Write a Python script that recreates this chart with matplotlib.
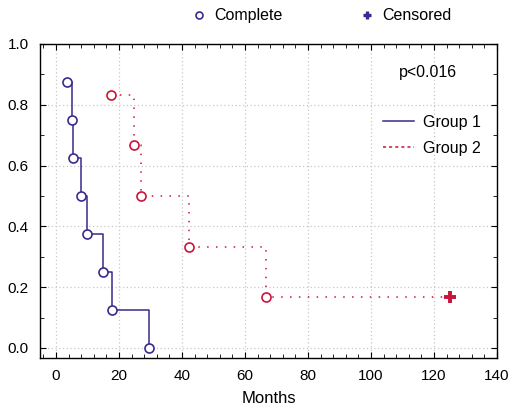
import matplotlib.pyplot as plt
from matplotlib.lines import Line2D
from matplotlib.ticker import MultipleLocator

plt.rcParams['font.family'] = ['Liberation Sans', 'DejaVu Sans']
plt.rcParams['font.size'] = 11

# Kaplan-Meier estimates
g1_months = [3.6, 5.0, 5.3, 8.0, 9.7, 14.8, 17.8, 29.5]
g1_surv = [0.875, 0.75, 0.625, 0.5, 0.375, 0.25, 0.125, 0.0]

g2_months = [17.5, 24.9, 27.0, 42.1, 66.7]
g2_surv = [0.833, 0.667, 0.5, 0.333, 0.167]
g2_cens_month = [125.0]
g2_cens_surv = [0.167]

p_text = "p<0.016"

blue = '#3b2a8c'
red = '#c8143c'
dots = (0, (1, 4.8))

fig = plt.figure(figsize=(5.11, 4.11), dpi=100)
ax = fig.add_axes([0.0783, 0.129, 0.8943, 0.764])

# group 1 step line + complete markers
ax.plot(g1_months, g1_surv, drawstyle='steps-post', color=blue, lw=1.1)
ax.plot(g1_months, g1_surv, 'o', ms=6.5, mfc='white', mec=blue, mew=1.2, zorder=3)

# group 2 step line runs out to the censored point
x2 = g2_months + g2_cens_month
y2 = g2_surv + g2_cens_surv
ax.plot(x2, y2, drawstyle='steps-post', color=red, lw=1.1, linestyle=dots)
ax.plot(g2_months, g2_surv, 'o', ms=6.5, mfc='white', mec=red, mew=1.2, zorder=3)
ax.plot(g2_cens_month, g2_cens_surv, '+', ms=8, mec=red, mew=2.8, zorder=3)

ax.set_xlim(-5.1, 140)
ax.set_ylim(-0.033, 1.0)
ax.xaxis.set_major_locator(MultipleLocator(20))
ax.xaxis.set_minor_locator(MultipleLocator(4))
ax.yaxis.set_major_locator(MultipleLocator(0.2))
ax.yaxis.set_minor_locator(MultipleLocator(0.1))
ax.yaxis.set_major_formatter(plt.FormatStrFormatter('%.1f'))
ax.tick_params(which='both', direction='in', top=True, right=True)
ax.tick_params(which='major', length=4, labelsize=11, pad=8)
ax.tick_params(which='minor', length=3)
ax.grid(True, which='major', color='#c8c8c8', linestyle=(0, (1, 2)), lw=0.9)
for s in ax.spines.values():
    s.set_linewidth(1.0)

ax.set_xlabel('Months', fontsize=12, labelpad=6)

ax.text(118, 0.905, p_text, ha='center', va='center', fontsize=11.5)

grp_handles = [Line2D([], [], color=blue, lw=1.1),
               Line2D([], [], color=red, lw=1.1, linestyle=(0, (2, 2)))]
ax.legend(grp_handles, ['Group 1', 'Group 2'], loc='upper left',
          bbox_to_anchor=(0.72, 0.82), frameon=False, handlelength=1.9,
          handletextpad=0.55, labelspacing=0.68, fontsize=11.5)

top_handles = [Line2D([], [], marker='o', ls='none', ms=5, mfc='white', mec=blue, mew=1.2),
               Line2D([], [], marker='+', ls='none', ms=6, mec=blue, mew=2.4)]
fig.legend(top_handles, ['Complete', 'Censored'], loc='upper center',
           bbox_to_anchor=(0.63, 1.015), ncol=2, frameon=False, handlelength=0.8,
           handletextpad=0.55, columnspacing=4.85, fontsize=11.5)

fig.savefig('out.png', dpi=100)
